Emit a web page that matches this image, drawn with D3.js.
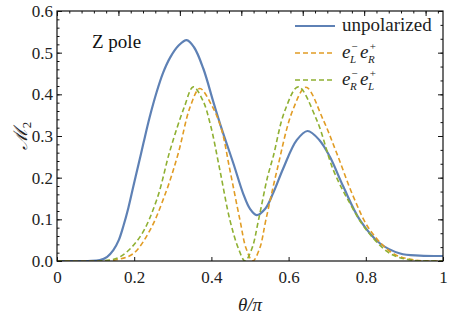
<!DOCTYPE html>
<html>
<head>
<meta charset="utf-8">
<script src="https://cdn.jsdelivr.net/npm/d3@7"></script>
<style>
  body { margin: 0; background: #fff; }
  svg text { font-family: "Liberation Serif", "DejaVu Serif", serif; }
</style>
</head>
<body>
<svg id="main" width="449" height="318"></svg>
<script>
"use strict";

// values
const unpolTheta = [0, 0.08, 0.111, 0.13, 0.146, 0.16, 0.172, 0.185, 0.198, 0.212, 0.224, 0.24, 0.258, 0.275, 0.293, 0.315, 0.336, 0.355, 0.379, 0.405, 0.425, 0.457, 0.483, 0.5, 0.517, 0.54, 0.56, 0.586, 0.621, 0.649, 0.68, 0.707, 0.742, 0.785, 0.837, 0.889, 0.94, 1];
const unpolValues = [0, 0, 0.002, 0.01, 0.026, 0.05, 0.084, 0.128, 0.18, 0.235, 0.283, 0.345, 0.405, 0.452, 0.488, 0.517, 0.53, 0.513, 0.462, 0.382, 0.322, 0.234, 0.16, 0.125, 0.11, 0.126, 0.163, 0.222, 0.29, 0.312, 0.29, 0.25, 0.178, 0.098, 0.042, 0.018, 0.013, 0.012];

const lrTheta = [0, 0.12, 0.16, 0.198, 0.241, 0.284, 0.314, 0.345, 0.37, 0.4, 0.425, 0.448, 0.474, 0.49, 0.507, 0.525, 0.541, 0.57, 0.61, 0.645, 0.69, 0.725, 0.768, 0.811, 0.871, 0.93, 1];
const lrValues = [0, 0, 0.004, 0.018, 0.074, 0.17, 0.258, 0.37, 0.414, 0.375, 0.32, 0.218, 0.098, 0.03, 0, 0.03, 0.098, 0.218, 0.36, 0.417, 0.338, 0.258, 0.154, 0.074, 0.018, 0.002, 0];

const rlTheta = [0, 0.11, 0.163, 0.215, 0.258, 0.293, 0.33, 0.353, 0.378, 0.398, 0.422, 0.448, 0.47, 0.487, 0.505, 0.522, 0.545, 0.56, 0.59, 0.625, 0.673, 0.716, 0.759, 0.802, 0.863, 0.92, 1];
const rlValues = [0, 0, 0.01, 0.058, 0.146, 0.266, 0.37, 0.418, 0.385, 0.325, 0.218, 0.098, 0.03, 0, 0.03, 0.098, 0.2, 0.25, 0.36, 0.418, 0.338, 0.218, 0.138, 0.074, 0.018, 0.002, 0];

const xTicks = [0, 0.2, 0.4, 0.6, 0.8, 1];
const xTickLabels = ["0", "0.2", "0.4", "0.6", "0.8", "1"];
const yTicks = [0, 0.1, 0.2, 0.3, 0.4, 0.5, 0.6];
const yTickLabels = ["0.0", "0.1", "0.2", "0.3", "0.4", "0.5", "0.6"];

const margin = { left: 57, right: 6, top: 11, bottom: 57 };
const width = 449, height = 318;
const serif = '"Liberation Serif", "DejaVu Serif", serif';

const svg = d3.select("#main");
const x = d3.scaleLinear().domain([0, 1]).range([margin.left, width - margin.right]);
const y = d3.scaleLinear().domain([0, 0.6]).range([height - margin.bottom, margin.top]);

const series = [
  { th: unpolTheta, v: unpolValues, color: "#5E81B5", w: 2.2, dash: null },
  { th: lrTheta, v: lrValues, color: "#E19C24", w: 1.6, dash: "5,3" },
  { th: rlTheta, v: rlValues, color: "#8FB032", w: 1.6, dash: "5,3" }
];

svg.append("clipPath").attr("id", "clip")
  .append("rect")
  .attr("x", x(0)).attr("y", y(0.6))
  .attr("width", x(1) - x(0)).attr("height", y(0) - y(0.6));

const line = d3.line()
  .x(d => x(d[0]))
  .y(d => Math.min(y(d[1]), y(0)))
  .curve(d3.curveCatmullRom.alpha(0.5));

series.forEach(s => {
  const pts = s.th.map((t, i) => [t, s.v[i]]);
  svg.append("path")
    .attr("d", line(pts))
    .attr("clip-path", "url(#clip)")
    .attr("fill", "none")
    .attr("stroke", s.color)
    .attr("stroke-width", s.w)
    .attr("stroke-dasharray", s.dash);
});

// bottom axis (major ticks only)
const xAxis = d3.axisBottom(x).tickValues(xTicks)
  .tickFormat((d, i) => xTickLabels[i])
  .tickSizeInner(-4).tickSizeOuter(0).tickPadding(8);
const gx = svg.append("g").attr("transform", `translate(0,${y(0)})`).call(xAxis);

// left axis
const yAxis = d3.axisLeft(y).tickValues(yTicks)
  .tickFormat((d, i) => yTickLabels[i])
  .tickSizeInner(-5).tickSizeOuter(0).tickPadding(4);
const gy = svg.append("g").attr("transform", `translate(${x(0)},0)`).call(yAxis);
svg.append("g").attr("transform", `translate(${x(0)},0)`)
  .call(d3.axisLeft(y).tickValues(d3.range(0, 0.6001, 0.02)).tickSizeInner(-2.5).tickSizeOuter(0).tickFormat(""));

// right axis
svg.append("g").attr("transform", `translate(${x(1)},0)`)
  .call(d3.axisRight(y).tickValues(yTicks).tickSizeInner(-5).tickSizeOuter(0).tickFormat(""));
svg.append("g").attr("transform", `translate(${x(1)},0)`)
  .call(d3.axisRight(y).tickValues(d3.range(0, 0.6001, 0.1 / 3)).tickSizeInner(-2.5).tickSizeOuter(0).tickFormat(""));

// top axis, ticks in radians
const xRad = d3.scaleLinear().domain([0, Math.PI]).range([x(0), x(1)]);
svg.append("g").attr("transform", `translate(0,${y(0.6)})`)
  .call(d3.axisTop(xRad).tickValues(d3.range(0, Math.PI, 0.5)).tickSizeInner(-5).tickSizeOuter(0).tickFormat(""));
svg.append("g").attr("transform", `translate(0,${y(0.6)})`)
  .call(d3.axisTop(xRad).tickValues(d3.range(0, Math.PI, 0.1)).tickSizeInner(-2.5).tickSizeOuter(0).tickFormat(""));

svg.selectAll(".domain").remove();
svg.selectAll(".tick line").attr("stroke", "#111");
svg.selectAll("g").attr("font-family", serif);
svg.selectAll(".tick text").attr("font-size", 17).attr("fill", "#222");
gx.selectAll("text").attr("dy", "0.85em");

// frame
svg.append("rect")
  .attr("x", x(0)).attr("y", y(0.6))
  .attr("width", x(1) - x(0)).attr("height", y(0) - y(0.6))
  .attr("fill", "none").attr("stroke", "#111").attr("stroke-width", 1.2);

// annotation
svg.append("text").attr("x", 92).attr("y", 48).attr("font-family", serif)
  .attr("font-size", 19).attr("fill", "#111").text("Z pole");

// axis titles
svg.append("text").attr("x", x(0.5)).attr("y", 311).attr("font-family", serif)
  .attr("text-anchor", "middle").attr("font-size", 19).attr("font-style", "italic").attr("fill", "#222")
  .text("θ/π");
const yt = svg.append("text").attr("font-family", serif)
  .attr("transform", `translate(27,${y(0.3)}) rotate(-90)`)
  .attr("text-anchor", "middle").attr("font-size", 19).attr("fill", "#222");
yt.append("tspan").attr("font-style", "italic").text("ℳ");
yt.append("tspan").attr("font-size", 13).attr("dy", 4).text("2");

// legend
const legendRows = [
  { color: "#5E81B5", w: 2.2, dash: null, main: "unpolarized" },
  { color: "#E19C24", w: 1.6, dash: "5,3", a: "L", b: "R" },
  { color: "#8FB032", w: 1.6, dash: "5,3", a: "R", b: "L" }
];
legendRows.forEach((r, i) => {
  const ly = 26 + i * 27;
  svg.append("line").attr("x1", 295).attr("x2", 335).attr("y1", ly).attr("y2", ly)
    .attr("stroke", r.color).attr("stroke-width", r.w).attr("stroke-dasharray", r.dash);
  if (r.main) {
    svg.append("text").attr("x", 342).attr("y", ly + 5).attr("font-family", serif)
      .attr("font-size", 19).attr("fill", "#222").text(r.main);
  } else {
    const g = svg.append("g").attr("font-style", "italic").attr("fill", "#222").attr("font-family", serif);
    const parts = [["e", 342, ly + 5, 19], ["−", 351, ly - 3, 11], [r.a, 350, ly + 10, 11],
                   ["e", 360, ly + 5, 19], ["+", 369, ly - 3, 11], [r.b, 368, ly + 10, 11]];
    parts.forEach(p => {
      g.append("text").attr("x", p[1]).attr("y", p[2]).attr("font-size", p[3]).text(p[0]);
    });
  }
});
</script>
</body>
</html>
